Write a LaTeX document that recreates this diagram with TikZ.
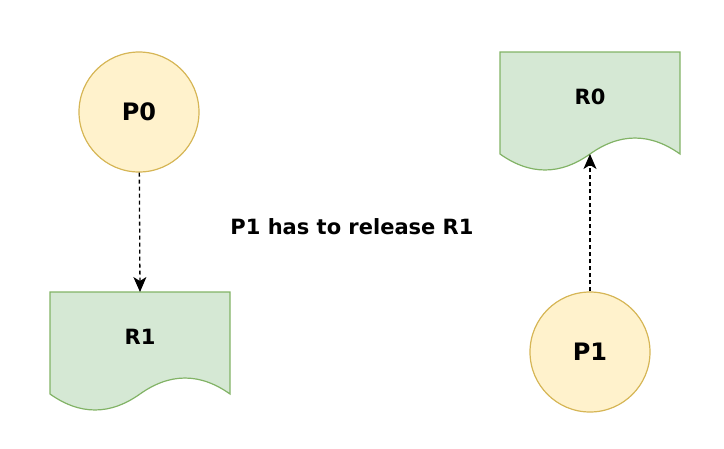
\documentclass[tikz,border=0pt]{standalone}
\usepackage{fontspec}
\setmainfont{DejaVu Sans}
\usepackage{xcolor}
\usetikzlibrary{arrows.meta}

\definecolor{procfill}{HTML}{FFF2CC}
\definecolor{procline}{HTML}{D6B656}
\definecolor{resfill}{HTML}{D5E8D4}
\definecolor{resline}{HTML}{82B366}

\begin{document}
\begin{tikzpicture}[
  x=1pt, y=-1pt,
  proc/.style   = {circle, draw=procline, fill=procfill, line width=1.2pt,
                   minimum size=120pt, inner sep=0pt,
                   font=\bfseries\fontsize{24}{28}\selectfont},
  txt/.style    = {font=\bfseries\fontsize{21}{25}\selectfont},
  arr/.style    = {-{Stealth[length=15pt,width=13pt,inset=4pt]}, line width=1.3pt,
                   dash pattern=on 4pt off 3pt},
  doc/.pic      = {
    \path[draw=resline, fill=resfill, line width=1.2pt]
      (0,0) -- (180,0) -- (180,102)
      .. controls (150,80.7) and (120,80.7) .. (90,102)
      .. controls (60,123.3) and (30,123.3) .. (0,102) -- cycle;
    \node[txt] (-text) at (90,45) {#1};
    \coordinate (-top) at (90,0);
    \coordinate (-wave) at (90,102);
  },
]

\useasboundingbox (0,0) rectangle (724,448);

\node[proc] (p0) at (139,112) {P0};
\node[proc] (p1) at (590,352) {P1};

\pic (r1) at (50,292) {doc=R1};
\pic (r0) at (500,52) {doc=R0};

\node[txt] (msg) at (352,227) {P1 has to release R1};

\draw[arr] (p0) -- (r1-top);
\draw[arr] (p1) -- (r0-wave);

\end{tikzpicture}
\end{document}
